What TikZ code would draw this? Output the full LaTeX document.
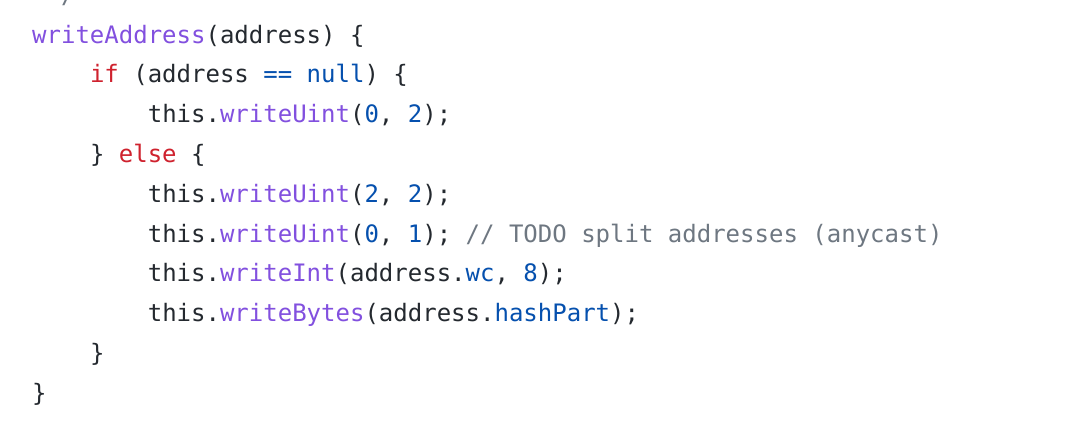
\documentclass[tikz,border=0pt]{standalone}
\usepackage{fontspec}
\usepackage{xcolor}
\newfontfamily\codefont{DejaVu Sans Mono}
\definecolor{codeplain}{HTML}{24292F}
\definecolor{codekw}{HTML}{CF222E}
\definecolor{codefn}{HTML}{8250DF}
\definecolor{codeconst}{HTML}{0550AE}
\definecolor{codecomment}{HTML}{6E7781}
\newcommand{\kw}[1]{\textcolor{codekw}{#1}}
\newcommand{\fn}[1]{\textcolor{codefn}{#1}}
\newcommand{\cn}[1]{\textcolor{codeconst}{#1}}
\newcommand{\cm}[1]{\textcolor{codecomment}{#1}}
\frenchspacing

\begin{document}
\begin{tikzpicture}[x=1pt,y=-1pt,codeline/.style={anchor=base west,inner sep=0pt,text=codeplain,font=\codefont\fontsize{24}{24}\selectfont}]
			\useasboundingbox[fill=white] (0,0) rectangle (1092,434);
			\node[codeline] (l0) at (46.4,3.2) {\cm{*/}};
			\node[codeline] (l1) at (32,43) {\fn{writeAddress}(address) \{};
			\node[codeline] (l2) at (89.8,82.8) {\kw{if} (address \cn{==} \cn{null}) \{};
			\node[codeline] (l3) at (147.6,122.6) {this.\fn{writeUint}(\cn{0}, \cn{2});};
			\node[codeline] (l4) at (89.8,162.4) {\} \kw{else} \{};
			\node[codeline] (l5) at (147.6,202.2) {this.\fn{writeUint}(\cn{2}, \cn{2});};
			\node[codeline] (l6) at (147.6,242) {this.\fn{writeUint}(\cn{0}, \cn{1}); \cm{// TODO split addresses (anycast)}};
			\node[codeline] (l7) at (147.6,281.8) {this.\fn{writeInt}(address.\cn{wc}, \cn{8});};
			\node[codeline] (l8) at (147.6,321.6) {this.\fn{writeBytes}(address.\cn{hashPart});};
			\node[codeline] (l9) at (89.8,361.4) {\}};
			\node[codeline] (l10) at (32,401.2) {\}};
		\end{tikzpicture}
\end{document}
